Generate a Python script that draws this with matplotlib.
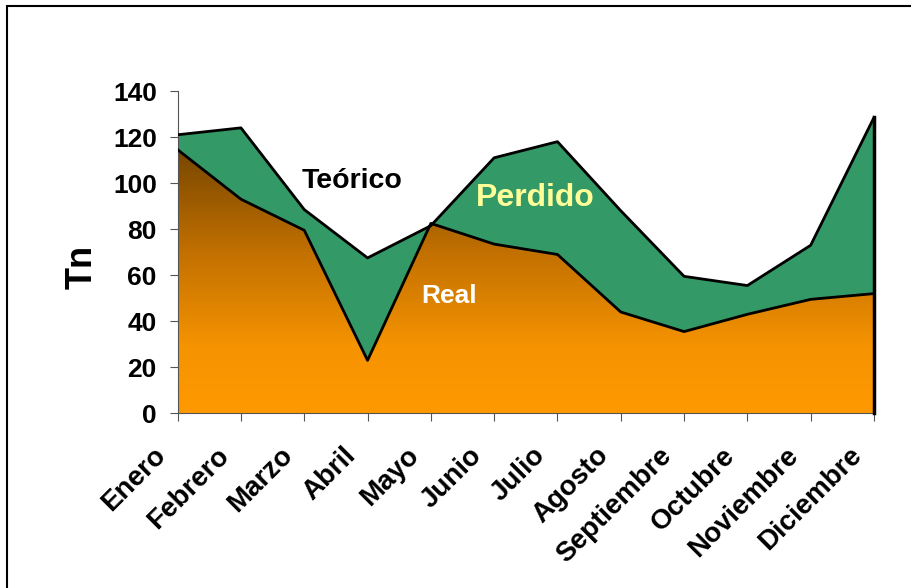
import matplotlib
matplotlib.use("Agg")
import matplotlib.pyplot as plt
import matplotlib.transforms as mtransforms
from matplotlib.colors import LinearSegmentedColormap
from matplotlib.patches import Rectangle, Polygon
import numpy as np

plt.rcParams["font.family"] = ["Liberation Sans", "DejaVu Sans"]
plt.rcParams["font.weight"] = "bold"

meses = ["Enero", "Febrero", "Marzo", "Abril", "Mayo", "Junio", "Julio",
         "Agosto", "Septiembre", "Octubre", "Noviembre", "Diciembre"]
teorico = [121, 124, 88.5, 67.5, 81.5, 111, 118, 88, 59.5, 55.5, 73, 128.5]
real = [114.5, 93, 79.5, 23, 82.5, 73.5, 69, 44, 35.5, 43, 49.5, 52]

verde = "#339966"

fig = plt.figure(figsize=(9.12, 5.88), dpi=100)
ax = fig.add_axes([0.1948, 0.2971, 0.7635, 0.5481])

x = np.arange(len(meses))

# teorico (verde) de fondo
ax.fill_between(x, 0, teorico, color=verde, zorder=1)
ax.plot(x, teorico, color="black", lw=2, zorder=3)

# real con degradado
pts = [(0, 0)] + list(zip(x, real)) + [(x[-1], 0)]
poly = Polygon(pts, closed=True, facecolor="none", edgecolor="none")
ax.add_patch(poly)
cmap = LinearSegmentedColormap.from_list(
    "real", [(0, "#FF9900"), (0.25, "#F59300"), (0.6, "#C27000"), (1, "#744500")])
grad = np.linspace(0, 1, 256).reshape(-1, 1)
img = ax.imshow(grad, cmap=cmap, origin="lower", aspect="auto",
                extent=[0, len(meses) - 1, 0, 116], zorder=2)
img.set_clip_path(poly)
ax.plot(x, real, color="black", lw=2, zorder=3)
ax.plot([x[-1], x[-1]], [0, teorico[-1]], color="black", lw=2.5, zorder=3,
        clip_on=False)

ax.set_xlim(0, len(meses) - 1)
ax.set_ylim(0, 140)
ax.set_yticks(range(0, 141, 20))
ax.tick_params(axis="y", labelsize=19, length=6, pad=9, color="#555555")
ax.tick_params(axis="x", labelsize=20, length=6, pad=15, color="#555555")
ax.set_xticks(x)
ax.set_xticklabels(meses, rotation=45, ha="right", va="top",
                   rotation_mode="anchor")
shift = mtransforms.ScaledTranslation(-0.25, 0, fig.dpi_scale_trans)
for lbl in ax.get_xticklabels():
    lbl.set_transform(lbl.get_transform() + shift)

for s in ["top", "right"]:
    ax.spines[s].set_visible(False)
ax.spines["left"].set_color("#555555")
ax.spines["bottom"].set_color("#555555")

ax.text(-0.1375, 0.454, "Tn", transform=ax.transAxes, rotation=90,
        fontsize=26, fontweight="bold", ha="center", va="center")

ax.text(2.75, 101, "Teórico", fontsize=20.5, fontweight="bold",
        color="black", ha="center", va="center", zorder=4)
ax.text(4.28, 51, "Real", fontsize=19, fontweight="bold",
        color="white", ha="center", va="center", zorder=4)
ax.text(5.65, 93.5, "Perdido", fontsize=23, fontweight="bold",
        color="#FFFF99", ha="center", va="center", zorder=4)

# marco exterior
fig.patches.append(Rectangle((7 / 912, -0.1), 1.2, 1 - 6 / 588 + 0.1,
                             transform=fig.transFigure, fill=False,
                             edgecolor="black", lw=1.5))

fig.savefig("out.png", dpi=100)
